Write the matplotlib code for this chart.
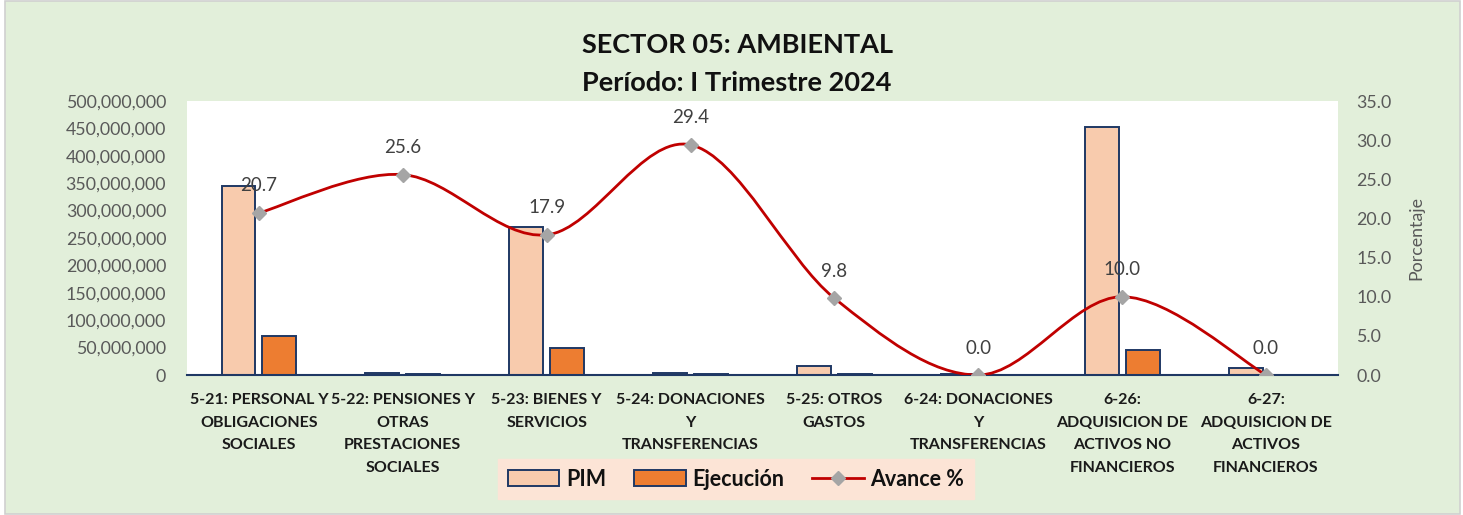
import matplotlib
matplotlib.use("Agg")
import matplotlib.pyplot as plt
import numpy as np
from matplotlib.patches import Rectangle
from matplotlib.path import Path
from matplotlib.patches import PathPatch
from matplotlib.lines import Line2D
from matplotlib.patches import Patch

plt.rcParams['font.family'] = ['Lato', 'DejaVu Sans']

categories = [
    "5-21: PERSONAL Y\nOBLIGACIONES\nSOCIALES",
    "5-22: PENSIONES Y\nOTRAS\nPRESTACIONES\nSOCIALES",
    "5-23: BIENES Y\nSERVICIOS",
    "5-24: DONACIONES\nY\nTRANSFERENCIAS",
    "5-25: OTROS\nGASTOS",
    "6-24: DONACIONES\nY\nTRANSFERENCIAS",
    "6-26:\nADQUISICION DE\nACTIVOS NO\nFINANCIEROS",
    "6-27:\nADQUISICION DE\nACTIVOS\nFINANCIEROS",
]
pim = [344_000_000, 3_500_000, 270_000_000, 3_000_000, 16_000_000, 2_200_000, 453_000_000, 13_000_000]
ejecucion = [71_000_000, 1_500_000, 48_500_000, 1_300_000, 1_600_000, 0, 45_500_000, 0]
avance = [20.7, 25.6, 17.9, 29.4, 9.8, 0.0, 10.0, 0.0]
left_ticks = [0, 50_000_000, 100_000_000, 150_000_000, 200_000_000, 250_000_000,
              300_000_000, 350_000_000, 400_000_000, 450_000_000, 500_000_000]
right_ticks = [0, 5, 10, 15, 20, 25, 30, 35]

W, H = 1463, 515
fig = plt.figure(figsize=(W / 100, H / 100), dpi=100)
fig.patch.set_facecolor('white')
# chart area background with light gray border
fig.patches.append(Rectangle((4.5 / W, 1.5 / H), (W - 8) / W, (H - 2) / H, transform=fig.transFigure,
                             facecolor='#E2EFDA', edgecolor='#D0D0D0', linewidth=1.2, zorder=-10))

ax = fig.add_axes([187 / W, 1 - 375 / H, (1338 - 187) / W, (375 - 101) / H])
ax.set_facecolor('white')
x = np.arange(len(categories))
bw = 0.235
off = 0.142
ax.bar(x - off, pim, bw, color='#F8CBAD', edgecolor='#1F3864', linewidth=1.4, zorder=2, label='PIM')
ax.bar(x + off, ejecucion, bw, color='#ED7D31', edgecolor='#1F3864', linewidth=1.4, zorder=2, label='Ejecución')
ax.set_xlim(-0.5, len(categories) - 0.5)
ax.set_ylim(0, 500_000_000)
ax.set_yticks(left_ticks)
ax.set_yticklabels([f"{v:,}" for v in left_ticks])
ax.tick_params(axis='y', length=0, labelsize=12.8, labelcolor='#595959', pad=15)
ax.set_xticks(x)
ax.set_xticklabels(categories, fontsize=11.5, fontweight='bold', color='#1a1a1a', linespacing=1.78)
ax.tick_params(axis='x', length=0, pad=13)
for s in ['top', 'right', 'left']:
    ax.spines[s].set_visible(False)
ax.spines['bottom'].set_color('#1F3864')
ax.spines['bottom'].set_linewidth(1.5)
ax.spines['bottom'].set_zorder(5)

ax2 = ax.twinx()
ax2.set_ylim(0, 35)
ax2.set_yticks(right_ticks)
ax2.set_yticklabels([f"{v:.1f}" for v in right_ticks])
ax2.tick_params(axis='y', length=0, labelsize=12.8, labelcolor='#595959', pad=13)
for s in ['top', 'right', 'left', 'bottom']:
    ax2.spines[s].set_visible(False)
ax2.set_ylabel('Porcentaje', fontsize=12.8, color='#595959', labelpad=12)

# Smooth (Excel-like) line through the points using Bezier segments
pts = np.column_stack([x.astype(float), np.array(avance, dtype=float)])
verts = [tuple(pts[0])]
codes = [Path.MOVETO]
n = len(pts)
for i in range(n - 1):
    p0 = pts[i - 1] if i > 0 else pts[i]
    p1 = pts[i]
    p2 = pts[i + 1]
    p3 = pts[i + 2] if i + 2 < n else pts[i + 1]
    c1 = p1 + (p2 - p0) / 6.0
    c2 = p2 - (p3 - p1) / 6.0
    verts += [tuple(c1), tuple(c2), tuple(p2)]
    codes += [Path.CURVE4, Path.CURVE4, Path.CURVE4]
ax2.add_patch(PathPatch(Path(verts, codes), facecolor='none', edgecolor='#C00000', linewidth=2.0, zorder=3))
ax2.plot(x, avance, linestyle='none', marker='D', markersize=7, color='#A5A5A5', zorder=4)
for xi, v in zip(x, avance):
    ax2.annotate(f"{v:.1f}", (xi, v), xytext=(0, 27), textcoords='offset pixels',
                 ha='center', va='center', fontsize=13.5, color='#404040', zorder=6)

# Title
fig.text(737 / W, 1 - 45 / H, 'SECTOR 05: AMBIENTAL', ha='center', va='center',
         fontsize=19.5, fontweight='bold', color='#111111')
fig.text(737 / W, 1 - 83 / H, 'Período: I Trimestre 2024', ha='center', va='center',
         fontsize=19.5, fontweight='bold', color='#111111')

# Legend
handles = [Patch(facecolor='#F8CBAD', edgecolor='#1F3864', linewidth=1.4),
           Patch(facecolor='#ED7D31', edgecolor='#1F3864', linewidth=1.4),
           Line2D([0], [0], color='#C00000', linewidth=2, marker='D', markersize=7,
                  markerfacecolor='#A5A5A5', markeredgecolor='#A5A5A5')]
leg = fig.legend(handles, ['PIM', 'Ejecución', 'Avance %'], loc='center',
                 bbox_to_anchor=(736 / W, 1 - 479 / H), ncol=3, frameon=True,
                 prop={'size': 15.5, 'weight': 'bold'}, handlelength=2.4, handleheight=0.7,
                 columnspacing=1.3, handletextpad=0.3, borderpad=0.45, fancybox=False)
leg.get_frame().set_facecolor('#FCE4D6')
leg.get_frame().set_edgecolor('#FCE4D6')
leg.get_frame().set_alpha(1)
for t in leg.get_texts():
    t.set_color('#111111')

fig.savefig('out.png', dpi=100, facecolor=fig.get_facecolor())
